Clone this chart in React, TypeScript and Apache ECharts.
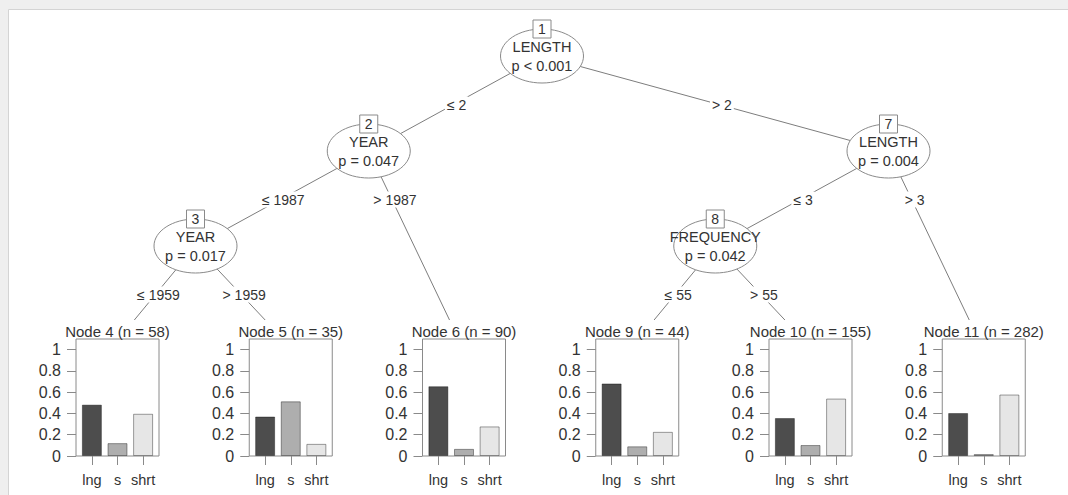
import React, { useEffect, useRef } from "react";
import * as echarts from "echarts";

// ---------- data ----------
const classLabels = ["lng", "s", "shrt"];
const yTicks = [0, 0.2, 0.4, 0.6, 0.8, 1];

const innerIds = [1, 2, 3, 7, 8];
const innerVars = ["LENGTH", "YEAR", "YEAR", "LENGTH", "FREQUENCY"];
const innerP = ["p < 0.001", "p = 0.047", "p = 0.017", "p = 0.004", "p = 0.042"];
const innerSlot = [2, 1, 0, 4, 3];
const innerDepth = [0, 1, 2, 1, 2];

const leafIds = [4, 5, 6, 9, 10, 11];
const leafN = [58, 35, 90, 44, 155, 282];
const leafLng = [0.483, 0.371, 0.656, 0.682, 0.357, 0.404];
const leafS = [0.121, 0.514, 0.067, 0.091, 0.103, 0.018];
const leafShrt = [0.397, 0.114, 0.278, 0.227, 0.54, 0.578];

const edgeFrom = [1, 1, 2, 2, 3, 3, 7, 7, 8, 8];
const edgeTo = [2, 7, 3, 6, 4, 5, 8, 11, 9, 10];
const edgeLabels = ["≤ 2", "> 2", "≤ 1987", "> 1987", "≤ 1959", "> 1959", "≤ 3", "> 3", "≤ 55", "> 55"];

// ---------- styling / layout ----------
const FONT = '"Liberation Sans", Arial, Helvetica, sans-serif';
const TEXT = "#333333";
const LINE = "#7d7d7d";
const BOX = "#8a8a8a";
const barColors = ["#4d4d4d", "#aeaeae", "#e6e6e6"];
const SLOT_W = 173.25;
const INNER_X0 = 195.5;
const LEAF_X0 = 117.5;
const LEVEL_Y0 = 56;
const LEVEL_DY = 95;
const RX = 41.5;
const RY = 27;
const PANEL_TOP = 320;
const AIM_Y = 344;
const BOX_TOP = 339;
const BOX_H = 117;
const BOX_W = 83;

const leafCx = (k: number) => LEAF_X0 + SLOT_W * k;
function innerPos(i: number) {
  return { x: INNER_X0 + SLOT_W * innerSlot[i], y: LEVEL_Y0 + LEVEL_DY * innerDepth[i] };
}
function nodePoint(id: number) {
  const i = innerIds.indexOf(id);
  if (i >= 0) return { ...innerPos(i), leaf: false };
  const k = leafIds.indexOf(id);
  return { x: leafCx(k) - 3, y: AIM_Y, leaf: true };
}

function buildGraphics() {
  const g: any[] = [];
  // page frame
  g.push({ type: "rect", z: -5, silent: true, shape: { x: 0, y: 0, width: 1068, height: 495 }, style: { fill: "#efefef" } });
  g.push({ type: "rect", z: -4, silent: true, shape: { x: 8.5, y: 9.5, width: 1070, height: 500 }, style: { fill: "#ffffff", stroke: "#d4d4d4", lineWidth: 1 } });

  // edges
  edgeFrom.forEach((f, e) => {
    const p = nodePoint(f);
    const c = nodePoint(edgeTo[e]);
    let end = { x: c.x, y: c.y };
    if (c.leaf) {
      const t = (PANEL_TOP - p.y) / (c.y - p.y);
      end = { x: p.x + t * (c.x - p.x), y: PANEL_TOP };
    }
    g.push({ type: "line", z: 1, silent: true, shape: { x1: p.x, y1: p.y, x2: end.x, y2: end.y }, style: { stroke: LINE, lineWidth: 1 } });
    const tl = 48.5 / (c.y - p.y);
    const lx = p.x + tl * (c.x - p.x) + 3;
    const ly = p.y + 48.5;
    g.push({
      type: "text", z: 6, silent: true, x: lx, y: ly,
      style: { text: edgeLabels[e], fill: TEXT, fontSize: 14, fontFamily: FONT, align: "center", verticalAlign: "middle", backgroundColor: "#ffffff", padding: [1, 2] },
    });
  });

  // inner nodes
  innerIds.forEach((id, i) => {
    const { x, y } = innerPos(i);
    g.push({ type: "ellipse", z: 2, silent: true, shape: { cx: x, cy: y, rx: RX, ry: RY }, style: { fill: "#ffffff", stroke: BOX, lineWidth: 1 } });
    g.push({ type: "text", z: 3, silent: true, x, y: y - 9, style: { text: innerVars[i], fill: TEXT, fontSize: 14.5, fontFamily: FONT, align: "center", verticalAlign: "middle" } });
    g.push({ type: "text", z: 3, silent: true, x, y: y + 10, style: { text: innerP[i], fill: TEXT, fontSize: 14.5, fontFamily: FONT, align: "center", verticalAlign: "middle" } });
    g.push({ type: "rect", z: 4, silent: true, shape: { x: x - 9, y: y - RY - 9, width: 18, height: 18 }, style: { fill: "#ffffff", stroke: BOX, lineWidth: 1 } });
    g.push({ type: "text", z: 5, silent: true, x, y: y - RY, style: { text: String(id), fill: TEXT, fontSize: 14, fontFamily: FONT, align: "center", verticalAlign: "middle" } });
  });

  // leaf titles
  leafIds.forEach((id, k) => {
    g.push({ type: "text", z: 3, silent: true, x: leafCx(k), y: 331, style: { text: `Node ${id} (n = ${leafN[k]})`, fill: TEXT, fontSize: 15, fontFamily: FONT, align: "center", verticalAlign: "middle" } });
  });
  return g;
}

function buildOption() {
  const grids: any[] = [];
  const xAxes: any[] = [];
  const yAxes: any[] = [];
  const series: any[] = [];
  leafIds.forEach((id, k) => {
    grids.push({ left: leafCx(k) - BOX_W / 2, top: BOX_TOP, width: BOX_W, height: BOX_H, show: true, borderColor: BOX, borderWidth: 1, backgroundColor: "transparent", z: 1 });
    xAxes.push({
      type: "value", gridIndex: k, min: -0.62, max: 2.62, position: "bottom",
      axisLine: { show: false, onZero: false }, splitLine: { show: false },
      axisTick: { show: true, inside: false, customValues: [0, 1, 2], length: 9, lineStyle: { color: BOX } },
      axisLabel: { show: true, customValues: [0, 1, 2], margin: 16, color: TEXT, fontSize: 14.5, fontFamily: FONT, formatter: (v: number) => classLabels[Math.round(v)] ?? "" },
    });
    yAxes.push({
      type: "value", gridIndex: k, min: 0, max: 1.1, position: "left",
      axisLine: { show: false, onZero: false }, splitLine: { show: false },
      axisTick: { show: true, inside: false, customValues: yTicks, length: 9, lineStyle: { color: BOX } },
      axisLabel: { show: true, customValues: yTicks, margin: 15, color: TEXT, fontSize: 16, fontFamily: FONT, formatter: (v: number) => String(Number(v.toFixed(1))) },
    });
    const vals = [leafLng[k], leafS[k], leafShrt[k]];
    series.push({
      type: "bar", xAxisIndex: k, yAxisIndex: k, barWidth: 20, z: 3,
      data: vals.map((v, j) => ({ value: [j, v], itemStyle: { color: barColors[j], borderColor: "rgba(0,0,0,0.38)", borderWidth: 1 } })),
    });
  });
  return {
    animation: false,
    backgroundColor: "#ffffff",
    textStyle: { fontFamily: FONT },
    grid: grids,
    xAxis: xAxes,
    yAxis: yAxes,
    series,
    graphic: { elements: buildGraphics() },
  };
}

export default function App() {
  const ref = useRef<HTMLDivElement>(null);
  useEffect(() => {
    document.body.style.margin = "0";
    if (!ref.current) return;
    const chart = echarts.init(ref.current, null, { renderer: "svg" });
    chart.setOption(buildOption() as any);
    return () => chart.dispose();
  }, []);
  return <div ref={ref} style={{ position: "absolute", left: 0, top: 0, width: 1068, height: 495 }} />;
}
